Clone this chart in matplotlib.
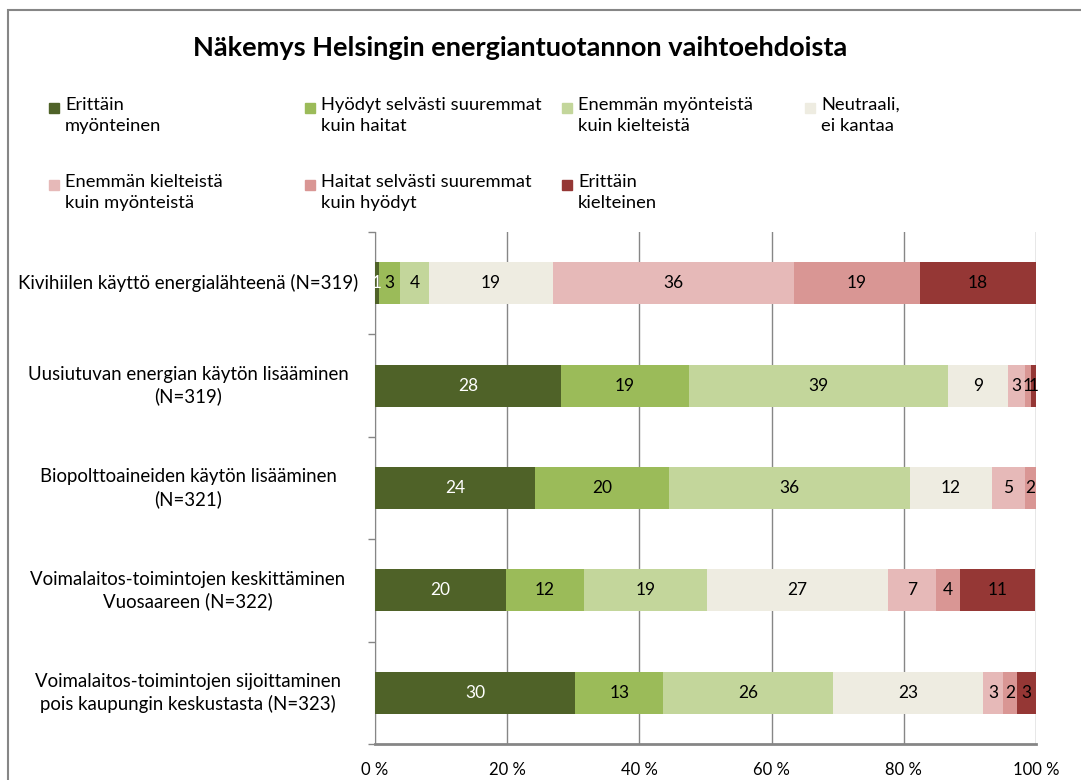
import matplotlib.pyplot as plt
import matplotlib.patches as mpatches
import matplotlib.transforms as mtransforms
import numpy as np

plt.rcParams['font.family'] = ['Lato', 'DejaVu Sans']

title = 'Näkemys Helsingin energiantuotannon vaihtoehdoista'

categories = [
    'Kivihiilen käyttö energialähteenä (N=319)',
    'Uusiutuvan energian käytön lisääminen\n(N=319)',
    'Biopolttoaineiden käytön lisääminen\n(N=321)',
    'Voimalaitos-toimintojen keskittäminen\nVuosaareen (N=322)',
    'Voimalaitos-toimintojen sijoittaminen\npois kaupungin keskustasta (N=323)',
]

series_names = [
    'Erittäin\nmyönteinen',
    'Hyödyt selvästi suuremmat\nkuin haitat',
    'Enemmän myönteistä\nkuin kielteistä',
    'Neutraali,\nei kantaa',
    'Enemmän kielteistä\nkuin myönteistä',
    'Haitat selvästi suuremmat\nkuin hyödyt',
    'Erittäin\nkielteinen',
]

# shares in percent, one list per answer option (rows follow categories)
erittain_myont = [0.6, 28.1, 24.2, 19.8, 30.3]
hyodyt_suuremmat = [3.2, 19.4, 20.3, 11.8, 13.3]
enemman_myont = [4.4, 39.2, 36.4, 18.6, 25.7]
neutraali = [18.7, 9.1, 12.4, 27.4, 22.7]
enemman_kielt = [36.5, 2.6, 5.0, 7.3, 3.0]
haitat_suuremmat = [19.0, 0.8, 1.7, 3.6, 2.1]
erittain_kielt = [17.6, 0.8, 0.0, 11.4, 2.9]

series = [erittain_myont, hyodyt_suuremmat, enemman_myont, neutraali,
          enemman_kielt, haitat_suuremmat, erittain_kielt]

colors = ['#4F6228', '#9BBB59', '#C3D69B', '#EEECE1',
          '#E6B9B8', '#D99694', '#953735']
label_colors = ['white', 'black', 'black', 'black', 'black', 'black', 'black']

xticks = [0, 20, 40, 60, 80, 100]

W, H = 1081, 780
fig = plt.figure(figsize=(W / 100, H / 100), dpi=100)
ax = fig.add_axes([375 / W, 1 - 744 / H, (1036 - 375) / W, (744 - 232) / H])

grid_col = '#868686'
y = np.arange(len(categories))
left = np.zeros(len(categories))
for vals, col, tcol in zip(series, colors, label_colors):
    vals = np.array(vals)
    ax.barh(y, vals, left=left, height=0.41, color=col, zorder=3)
    for yi, (v, l) in enumerate(zip(vals, left)):
        if v > 0:
            ax.text(l + v / 2, yi, '%.0f' % v, ha='center', va='center',
                    fontsize=12.5, color=tcol, zorder=4)
    left += vals

ax.set_xlim(0, 100)
ax.set_ylim(len(categories) - 0.5, -0.5)
ax.set_xticks(xticks)
ax.set_xticklabels(['%d %%' % t for t in xticks], fontsize=12)
ax.tick_params(axis='x', length=0, pad=13)
ax.grid(axis='x', color=grid_col, linewidth=1, zorder=0)

ax.set_yticks(np.arange(len(categories) + 1) - 0.5)
ax.set_yticklabels([])
ax.tick_params(axis='y', length=5, color=grid_col, width=1)

for side in ['top', 'right']:
    ax.spines[side].set_visible(False)
ax.spines['left'].set_color(grid_col)
ax.spines['bottom'].set_color(grid_col)
ax.spines['bottom'].set_linewidth(2)

# category labels centred left of the bars
trans = mtransforms.blended_transform_factory(ax.transAxes, ax.transData)
for yi, cat in enumerate(categories):
    ax.text((188 - 375) / (1036 - 375), yi, cat, transform=trans,
            ha='center', va='center', multialignment='center',
            fontsize=13.4, linespacing=1.3)

fig.text(520 / W, 1 - 48 / H, title, ha='center', va='center',
         fontsize=19.5, fontweight='bold')

# legend laid out in two rows of four columns
col_x = [49, 305, 562, 805]
row_y = [108, 185]
for i, (name, col) in enumerate(zip(series_names, colors)):
    r, c = divmod(i, 4)
    x0, y0 = col_x[c], row_y[r]
    fig.add_artist(mpatches.Rectangle((x0 / W, 1 - (y0 + 5) / H), 10 / W, 10 / H,
                                      transform=fig.transFigure, color=col))
    fig.text((x0 + 16) / W, 1 - (y0 - 11) / H, name, ha='left', va='top',
             fontsize=13.2, linespacing=1.4)

# outer chart frame
fig.add_artist(mpatches.Rectangle((8 / W, -0.1), 1.2, 1.1 - 10 / H,
                                  transform=fig.transFigure, fill=False,
                                  edgecolor=grid_col, linewidth=1.5))

fig.savefig('out.png', dpi=100)
